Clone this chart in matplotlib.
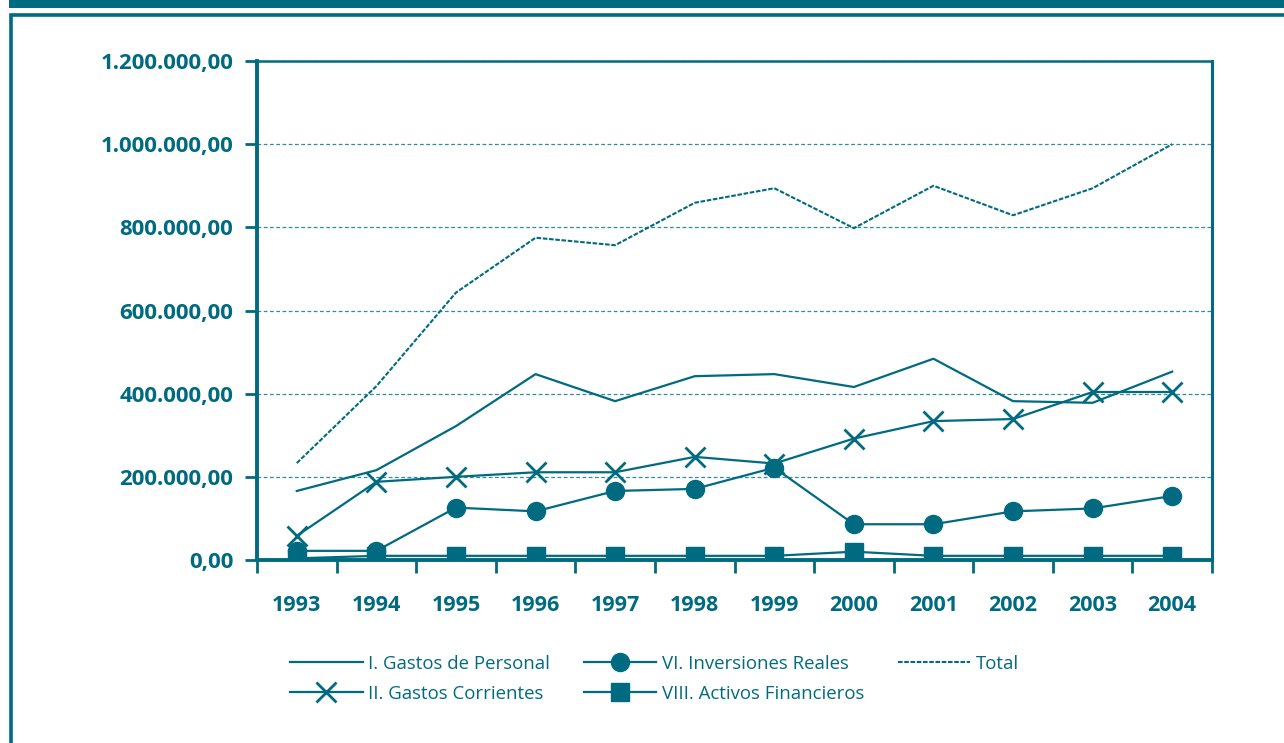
import numpy as np
import matplotlib
matplotlib.use("Agg")
import matplotlib.pyplot as plt
from matplotlib.ticker import FuncFormatter, FixedLocator
from matplotlib.patches import Rectangle

teal = '#006b80'
grid_teal = '#2f8c9e'

years = [1993, 1994, 1995, 1996, 1997, 1998, 1999, 2000, 2001, 2002, 2003, 2004]
personal = [166000, 216000, 322000, 447000, 382000, 442000, 447000, 416000, 484000, 382000, 378000, 453000]
corrientes = [58000, 188000, 200000, 211000, 211000, 248000, 232000, 292000, 334000, 339000, 404000, 404000]
inversiones = [22000, 22000, 126000, 117000, 166000, 171000, 222000, 86000, 86000, 117000, 124000, 154000]
activos = [4000, 10000, 10000, 10000, 10000, 10000, 10000, 20000, 10000, 10000, 10000, 10000]
total = [233000, 418000, 643000, 775000, 757000, 859000, 894000, 798000, 900000, 829000, 894000, 1000000]

labels = ['I. Gastos de Personal', 'II. Gastos Corrientes', 'VI. Inversiones Reales',
          'VIII. Activos Financieros', 'Total']

plt.rcParams['font.family'] = ['Open Sans', 'DejaVu Sans']

fig = plt.figure(figsize=(12.84, 7.43), dpi=100)

# top band and outer frame
fig.patches.append(Rectangle((9 / 1284, 1 - 8 / 743), 1, 8 / 743, transform=fig.transFigure,
                             facecolor=teal, edgecolor='none', zorder=0))
fig.patches.append(Rectangle((11 / 1284, -0.1), 2, 1 - 15.5 / 743 + 0.1, transform=fig.transFigure,
                             facecolor='none', edgecolor=teal, linewidth=2.6, zorder=0))

ax = fig.add_axes([257 / 1284, 1 - 560 / 743, 955 / 1284, 499 / 743])

ax.plot(years, total, color=teal, linewidth=1.5, linestyle=(0, (2.2, 0.8)), label=labels[4], zorder=3)
ax.plot(years, personal, color=teal, linewidth=1.6, label=labels[0], zorder=4)
ax.plot(years, corrientes, color=teal, linewidth=1.6, marker='x', markersize=14,
        markeredgewidth=2, label=labels[1], zorder=4)
ax.plot(years, inversiones, color=teal, linewidth=1.6, marker='o', markersize=13,
        label=labels[2], zorder=5)
ax.plot(years, activos, color=teal, linewidth=1.6, marker='s', markersize=13,
        label=labels[3], zorder=5)

ax.set_xlim(1992.5, 2004.5)
ax.set_ylim(0, 1200000)

ax.set_xticks(years)
ax.xaxis.set_minor_locator(FixedLocator(np.arange(1992.5, 2005, 1.0)))
ax.tick_params(axis='x', which='major', length=0, pad=25, labelsize=15.5, labelcolor=teal)
ax.tick_params(axis='x', which='minor', length=9, width=2, color=teal, direction='out')
for t in ax.get_xticklabels():
    t.set_fontweight('bold')

ax.set_yticks(np.arange(0, 1200001, 200000))
ax.yaxis.set_major_formatter(FuncFormatter(
    lambda v, p: f'{v:,.2f}'.replace(',', 'X').replace('.', ',').replace('X', '.')))
ax.tick_params(axis='y', length=9, width=2, color=teal, pad=8, labelsize=16, labelcolor=teal)
for t in ax.get_yticklabels():
    t.set_fontweight('bold')

ax.grid(axis='y', color=grid_teal, linestyle=(0, (3, 2)), linewidth=0.9)
ax.set_axisbelow(True)

for side, lw in [('left', 2.8), ('bottom', 2.8), ('top', 1.8), ('right', 2.2)]:
    ax.spines[side].set_color(teal)
    ax.spines[side].set_linewidth(lw)

h, l = ax.get_legend_handles_labels()
hd = dict(zip(l, h))
leg = fig.legend([hd[x] for x in labels], labels, loc='upper left',
                 bbox_to_anchor=(290 / 1284, 1 - 655 / 743), ncol=3, frameon=False,
                 fontsize=13.4, handlelength=3.9, handletextpad=0.3, columnspacing=1.8,
                 labelspacing=0.62, borderpad=0, borderaxespad=0)
for t in leg.get_texts():
    t.set_color(teal)

fig.savefig('out.png', dpi=100, facecolor='white')
